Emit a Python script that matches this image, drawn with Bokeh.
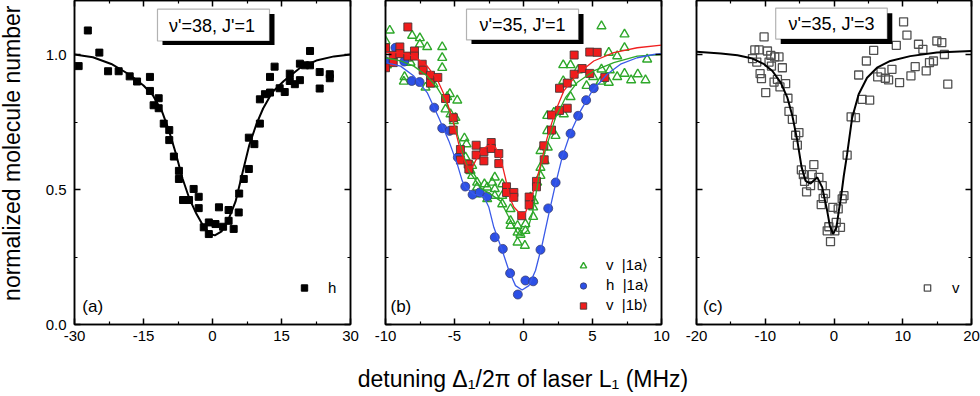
import math
from bokeh.plotting import figure
from bokeh.layouts import row, column
from bokeh.models import (FixedTicker, LinearAxis, Range1d, Label, BoxAnnotation,
                          Legend, LegendItem, PrintfTickFormatter)
from bokeh.embed import file_html
from bokeh.resources import INLINE

FONT = "Liberation Sans"

# ---------------- data ----------------
# panel (a): v'=38, J'=1, polarisation h
a_x = [-29.1, -27.1, -24.6, -22.7, -20.4, -18.0, -16.4, -13.6, -13.6, -12.8,
       -11.7, -11.7, -10.6, -9.4, -9.4, -8.4, -7.3, -7.3, -6.4, -5.1,
       -4.1, -3.0, -3.0, -1.9, -0.8, -0.8, 0.65, 1.4, 2.3, 3.5,
       3.5, 4.6, 5.7, 5.8, 6.8, 7.9, 7.9, 9.1, 10.3, 10.3,
       11.4, 12.5, 12.5, 13.5, 14.6, 15.7, 16.8, 16.8, 17.9, 19.0,
       19.0, 20.1, 21.2, 21.2, 23.3, 23.3, 25.5, 25.5]
a_y = [0.957, 1.089, 1.007, 0.938, 0.938, 0.919, 0.900, 0.917, 0.865, 0.812,
       0.838, 0.801, 0.744, 0.720, 0.683, 0.622, 0.569, 0.539, 0.461, 0.461,
       0.502, 0.473, 0.431, 0.360, 0.378, 0.335, 0.372, 0.434, 0.362, 0.384,
       0.424, 0.354, 0.415, 0.485, 0.539, 0.576, 0.692, 0.668, 0.744, 0.834,
       0.853, 0.859, 0.917, 0.955, 0.875, 0.861, 0.929, 0.902, 0.890, 0.905,
       0.966, 0.960, 1.013, 0.960, 0.874, 0.935, 0.927, 0.912]
af_x = [-30, -26, -22, -18, -15, -13, -11, -9.5, -8, -6.5, -5, -3.5, -2, -0.5,
        0.5, 2, 3.5, 5, 6.5, 8, 9.5, 11, 13, 15.5, 19, 22.8, 26.4, 30]
af_y = [1.0, 0.99, 0.965, 0.925, 0.885, 0.85, 0.79, 0.72, 0.635, 0.54, 0.465, 0.41, 0.365, 0.335,
        0.33, 0.345, 0.39, 0.455, 0.56, 0.665, 0.74, 0.80, 0.86, 0.902, 0.95, 0.979, 0.993, 1.0]

# panel (b): v'=35, J'=1
gb_x = [-10.00, -9.69, -9.28, -9.90, -8.79, -8.43, -8.19, -8.07, -8.67, -8.62,
        -7.51, -7.51, -6.98, -7.10, -6.52, -5.89, -5.89, -5.89, -5.34, -4.80,
        -5.53, -5.65, -5.29, -4.93, -5.05, -4.28, -4.13, -4.20, -3.84, -3.72,
        -3.72, -3.36, -3.36, -3.17, -2.83, -2.63, -2.63, -2.27, -2.08, -2.08,
        -2.08, -1.54, -1.54, -1.54, -0.94, -0.94, -0.94, -0.43, -0.43, -0.43,
        -0.22, 0.14, 0.14, 0.10, 0.70, 0.70, 0.75, 0.51, 0.99, 1.23,
        1.23, 1.23, 1.53, 1.72, 1.72, 1.76, 2.20, 2.32, 2.92, 2.88,
        2.88, 3.41, 3.41, 3.53, 3.94, 4.57, 5.05, 5.58, 5.65, 5.65,
        6.18, 6.18, 6.25, 6.79, 6.79, 7.32, 7.32, 7.32, 7.80, 8.28,
        8.84, 8.96]
gb_y = [1.050, 1.089, 1.007, 0.960, 1.000, 0.985, 0.970, 1.070, 0.900, 0.917,
        1.061, 1.038, 1.028, 0.878, 0.890, 1.028, 0.988, 0.951, 0.854, 0.830,
        0.843, 0.797, 0.779, 0.766, 0.754, 0.690, 0.668, 0.619, 0.569, 0.588,
        0.551, 0.526, 0.508, 0.483, 0.520, 0.508, 0.465, 0.526, 0.545, 0.502,
        0.477, 0.520, 0.477, 0.446, 0.428, 0.384, 0.366, 0.366, 0.341, 0.304,
        0.333, 0.372, 0.347, 0.292, 0.399, 0.434, 0.458, 0.471, 0.526, 0.551,
        0.581, 0.643, 0.606, 0.717, 0.773, 0.656, 0.785, 0.699, 0.779, 0.902,
        0.961, 0.961, 0.843, 0.896, 0.942, 0.884, 0.917, 0.900, 0.945, 1.105,
        1.007, 0.896, 0.942, 0.994, 0.917, 1.075, 1.025, 0.929, 0.905, 0.927,
        0.905, 0.982]
bb_x = [-10.0, -9.28, -8.64, -8.10, -7.53, -6.47, -5.89, -5.36, -4.76, -4.22,
        -3.69, -3.17, -2.63, -2.08, -1.50, -0.97, -0.41, 0.14, 0.70, 1.23,
        1.79, 2.33, 2.88, 3.41, 3.96, 4.54, 5.09]
bb_y = [0.975, 1.025, 0.974, 0.902, 0.898, 0.803, 0.727, 0.717, 0.619, 0.511,
        0.481, 0.489, 0.474, 0.323, 0.280, 0.190, 0.111, 0.163, 0.160, 0.277,
        0.430, 0.526, 0.627, 0.707, 0.773, 0.831, 0.875]
rb_x = [-10.0, -10.0, -9.44, -9.44, -8.96, -8.96, -8.38, -8.38, -7.90, -7.90,
        -7.34, -7.27, -6.74, -6.74, -6.21, -5.65, -5.09, -5.09, -4.57, -4.57,
        -4.01, -3.96, -3.43, -3.43, -2.87, -2.87, -2.34, -2.34, -1.79, -1.79,
        -1.23, -1.23, -0.70, -0.70, -0.13, 0.41, 0.41, 0.94, 0.94, 1.47,
        1.50, 2.03, 2.03, 2.61, 2.61, 3.17, 3.17, 3.67, 3.67, 4.25,
        4.80, 4.80, 5.34, 5.89]
rb_y = [1.025, 0.951, 0.997, 0.970, 1.028, 1.003, 1.102, 0.994, 1.013, 0.994,
        0.964, 0.942, 0.923, 0.894, 0.915, 0.837, 0.766, 0.720, 0.648, 0.609,
        0.594, 0.576, 0.664, 0.628, 0.640, 0.606, 0.674, 0.652, 0.633, 0.596,
        0.510, 0.489, 0.489, 0.471, 0.403, 0.472, 0.443, 0.530, 0.510, 0.662,
        0.610, 0.776, 0.720, 0.875, 0.793, 0.894, 0.801, 0.998, 0.927, 0.948,
        1.009, 0.930, 1.008, 0.915]
gf_x = [-10.0, -8.91, -7.95, -6.98, -6.26, -5.53, -4.93, -4.44, -3.96, -3.48,
        -3.12, -2.39, -1.67, -1.06, -0.46, -0.10, 0.27, 0.63, 0.99, 1.23,
        1.72, 2.32, 3.04, 3.89, 5.09, 6.54, 8.24, 10.0]
gf_y = [0.988, 0.976, 0.957, 0.920, 0.877, 0.816, 0.729, 0.643, 0.569, 0.535,
        0.505, 0.483, 0.458, 0.397, 0.341, 0.329, 0.347, 0.409, 0.508, 0.581,
        0.668, 0.766, 0.840, 0.896, 0.939, 0.970, 0.994, 1.000]
bf_x = [-10.0, -8.91, -7.95, -6.98, -6.14, -5.41, -4.80, -4.44, -4.20, -3.60,
        -2.87, -2.51, -2.15, -1.54, -1.06, -0.58, -0.10, 0.39, 0.87, 1.36,
        1.83, 2.32, 2.80, 3.41, 4.13, 4.98, 6.06, 7.03, 8.24, 9.44, 10.0]
bf_y = [0.970, 0.957, 0.920, 0.859, 0.766, 0.680, 0.594, 0.532, 0.508, 0.483,
        0.473, 0.434, 0.360, 0.274, 0.200, 0.144, 0.128, 0.144, 0.200, 0.298,
        0.409, 0.520, 0.619, 0.711, 0.791, 0.865, 0.927, 0.964, 0.988, 1.000, 1.003]
rf_x = [-10.0, -8.91, -7.95, -6.98, -6.26, -5.65, -5.17, -4.69, -4.20, -3.84,
        -3.48, -3.00, -2.39, -2.03, -1.67, -1.30, -1.00, -0.70, -0.22, 0.14,
        0.51, 0.87, 1.23, 1.72, 2.32, 2.92, 3.89, 5.09, 6.54, 8.24, 10.0]
rf_y = [1.007, 1.007, 0.994, 0.957, 0.908, 0.840, 0.766, 0.668, 0.594, 0.569,
        0.606, 0.650, 0.666, 0.656, 0.619, 0.540, 0.470, 0.435, 0.409, 0.415,
        0.458, 0.520, 0.590, 0.692, 0.791, 0.865, 0.927, 0.976, 1.007, 1.025, 1.035]

# panel (c): v'=35, J'=3, polarisation v
c_x = [-10.17, -11.52, -10.90, -9.68, -11.86, -11.23, -9.20, -8.62, -8.00, -9.45,
       -9.10, -7.51, -10.75, -10.55, -8.72, -8.23, -7.86, -7.03, -9.93, -6.70,
       -6.55, -6.06, -5.10, -5.58, -5.33, -4.75, -4.46, -2.93, -3.16, -2.20,
       -4.28, -3.41, -3.99, -1.71, -1.23, -1.57, -1.86, -0.17, -0.75, -0.99,
       0.12, -0.51, 0.32, 0.94, 0.61, 1.19, 1.45, 1.91, 2.49, 3.12,
       4.09, 5.19, 3.59, 4.71, 5.77, 6.84, 6.35, 7.46, 8.43, 7.94,
       9.54, 9.06, 10.12, 10.61, 11.19, 11.81, 12.29, 12.93, 13.41, 13.89,
       14.46, 14.96, 15.68, 16.06, 16.55]
c_y = [1.065, 1.017, 1.017, 1.013, 0.985, 0.972, 0.997, 0.991, 0.991, 0.972,
       0.957, 0.951, 0.929, 0.911, 0.898, 0.908, 0.880, 0.892, 0.859, 0.838,
       0.789, 0.760, 0.711, 0.701, 0.664, 0.573, 0.555, 0.592, 0.555, 0.545,
       0.530, 0.514, 0.491, 0.514, 0.485, 0.467, 0.444, 0.434, 0.362, 0.347,
       0.347, 0.307, 0.378, 0.360, 0.428, 0.465, 0.477, 0.627, 0.769, 0.766,
       0.834, 0.831, 0.924, 0.976, 1.015, 0.935, 0.917, 0.912, 0.945, 0.906,
       0.896, 1.034, 1.121, 1.072, 0.921, 0.955, 1.038, 1.019, 0.939, 0.970,
       0.976, 1.050, 1.044, 1.000, 0.890]
cf_x = [-20.0, -16.45, -14.03, -11.86, -10.17, -8.96, -7.75, -6.78, -6.06, -5.33,
        -4.71, -4.13, -3.41, -2.43, -1.71, -1.33, -0.99, -0.61, -0.12, 0.36,
        0.70, 1.04, 1.42, 1.91, 2.64, 3.59, 4.81, 6.26, 8.19, 11.09, 14.96, 20.0]
cf_y = [1.010, 1.004, 0.997, 0.985, 0.964, 0.939, 0.896, 0.840, 0.773, 0.680,
        0.582, 0.532, 0.522, 0.545, 0.508, 0.461, 0.421, 0.366, 0.335, 0.360,
        0.421, 0.475, 0.550, 0.631, 0.766, 0.853, 0.914, 0.951, 0.976, 0.994, 1.007, 1.013]

# ticks / texts
y_ticks = [0.0, 0.5, 1.0]
y_minor = [0.25, 0.75]
a_ticks, a_minor = [-30, -15, 0, 15, 30], [-22.5, -7.5, 7.5, 22.5]
b_ticks, b_minor = [-10, -5, 0, 5, 10], [-7.5, -2.5, 2.5, 7.5]
c_ticks, c_minor = [-20, -10, 0, 10, 20], [-15, -5, 5, 15]
titles = ["\u03bd'=38, J'=1", "\u03bd'=35, J'=1", "\u03bd'=35, J'=3"]
panel_tags = ["(a)", "(b)", "(c)"]
y_title = "normalized molecule number"
x_title = "detuning \u0394\u2081/2\u03c0 of laser L\u2081 (MHz)"

ROW_H = 350
TITLE_H = 46
YLAB_W = 36


def style_axis(ax, ticks, minor, fmt, show_labels):
    ax.ticker = FixedTicker(ticks=ticks, minor_ticks=minor)
    ax.formatter = PrintfTickFormatter(format=fmt)
    ax.axis_line_color = "black"
    ax.axis_line_width = 1.5
    ax.major_tick_in = 6
    ax.major_tick_out = 0
    ax.minor_tick_in = 3
    ax.minor_tick_out = 0
    ax.major_tick_line_color = "black"
    ax.major_tick_line_width = 1.5
    ax.minor_tick_line_color = "black"
    ax.minor_tick_line_width = 1.2
    if show_labels:
        ax.major_label_text_font = FONT
        ax.major_label_text_font_size = "15px"
        ax.major_label_text_color = "black"
        ax.major_label_standoff = 6
    else:
        ax.major_label_text_color = None
        ax.major_label_text_font_size = "0px"
        ax.major_label_standoff = 0


def make_panel(width, bl, br, xr, xt, xm, ylabels):
    p = figure(width=width, height=ROW_H, x_range=Range1d(*xr), y_range=Range1d(0, 1.2),
               output_backend="svg", toolbar_location=None,
               min_border_left=bl, min_border_right=br, min_border_top=0,
               min_border_bottom=ROW_H - 324)
    p.grid.visible = False
    p.outline_line_color = "black"
    p.outline_line_width = 1.5
    bottom = p.below[0]
    left = p.left[0]
    style_axis(bottom, xt, xm, "%d", True)
    style_axis(left, y_ticks, y_minor, "%.1f", ylabels)
    if ylabels:
        left.major_label_standoff = 8
    top = LinearAxis()
    style_axis(top, xt, xm, "%d", False)
    p.add_layout(top, "above")
    right = LinearAxis()
    style_axis(right, y_ticks, y_minor, "%.1f", False)
    p.add_layout(right, "right")
    return p


def text_panel(width, height):
    t = figure(width=width, height=height, x_range=Range1d(0, width), y_range=Range1d(0, height),
               output_backend="svg", toolbar_location=None, x_axis_type=None, y_axis_type=None,
               min_border=0, min_border_left=0, min_border_right=0,
               min_border_top=0, min_border_bottom=0)
    t.grid.visible = False
    t.outline_line_color = None
    return t


def title_box(p, text, box, shadow, tx, ty):
    p.add_layout(BoxAnnotation(left=shadow[0], right=shadow[1], top=shadow[2], bottom=shadow[3],
                               fill_color="black", fill_alpha=1.0, line_color=None))
    p.add_layout(BoxAnnotation(left=box[0], right=box[1], top=box[2], bottom=box[3],
                               fill_color="white", fill_alpha=1.0, line_color="black", line_width=1.2))
    p.add_layout(Label(x=tx, y=ty, text=text, text_font=FONT, text_font_size="18px",
                       text_align="center", text_baseline="middle", text_color="black"))


def tag(p, text, x):
    p.add_layout(Label(x=x, y=0.067, text=text, text_font=FONT, text_font_size="17px",
                       text_align="left", text_baseline="middle", text_color="black"))


def legend(p, items, loc, standoff):
    lg = Legend(items=items, location=loc, orientation="vertical",
                background_fill_alpha=0, border_line_alpha=0, padding=0, margin=0, spacing=2,
                glyph_width=16, glyph_height=17, label_height=17, label_standoff=standoff,
                label_text_font=FONT, label_text_font_size="15px", label_text_color="black")
    p.add_layout(lg)


# ---------------- y title ----------------
py = text_panel(YLAB_W, ROW_H)
py.add_layout(Label(x=11, y=ROW_H - 165, text=y_title, angle=math.pi / 2, text_font=FONT,
                    text_font_size="23px", text_align="center", text_baseline="alphabetic",
                    text_color="black"))

# ---------------- panel (a) ----------------
pa = make_panel(367 - YLAB_W, 74 - YLAB_W, 17, (-30, 30), a_ticks, a_minor, True)
ra = pa.scatter(a_x, a_y, marker="square", size=7, fill_color="black", line_color="black")
pa.line(af_x, af_y, line_color="black", line_width=2)
title_box(pa, titles[0], (-11.96, 12.39, 1.168, 1.050), (-10.87, 13.48, 1.150, 1.035), -0.1, 1.107)
tag(pa, panel_tags[0], -28.3)
legend(pa, [LegendItem(label="h", renderers=[ra])], (222, 28), 16)

# ---------------- panel (b) ----------------
pb = make_panel(311, 18, 17, (-10, 10), b_ticks, b_minor, False)
rg = pb.scatter(gb_x, gb_y, marker="triangle", size=9, fill_color=None,
                line_color="#2ea82a", line_width=1.4)
rbl = pb.scatter(bb_x, bb_y, marker="circle", size=9, fill_color="#2c50e6",
                 line_color="#3b3f70", line_width=0.8)
rr = pb.scatter(rb_x, rb_y, marker="square", size=8, fill_color="#f01c1c",
                line_color="#4a3535", line_width=0.9)
pb.line(gf_x, gf_y, line_color="#2ea82a", line_width=1.3)
pb.line(bf_x, bf_y, line_color="#3a5ae8", line_width=1.3)
pb.line(rf_x, rf_y, line_color="#f02020", line_width=1.3)
title_box(pb, titles[1], (-4.13, 3.99, 1.168, 1.054), (-3.77, 4.35, 1.150, 1.039), -0.07, 1.110)
tag(pb, panel_tags[1], -9.64)
legend(pb, [LegendItem(label="v  |1a\u27e9", renderers=[rg]),
            LegendItem(label="h  |1a\u27e9", renderers=[rbl]),
            LegendItem(label="v  |1b\u27e9", renderers=[rr])], (190, 10), 15)

# ---------------- panel (c) ----------------
pc = make_panel(302, 18, 9, (-20, 20), c_ticks, c_minor, False)
rc = pc.scatter(c_x, c_y, marker="square", size=8, fill_color=None,
                line_color="#505050", line_width=1.3)
pc.line(cf_x, cf_y, line_color="black", line_width=2)
title_box(pc, titles[2], (-8.48, 7.75, 1.172, 1.057), (-7.75, 8.48, 1.153, 1.039), -0.36, 1.113)
tag(pc, panel_tags[2], -19.06)
legend(pc, [LegendItem(label="v", renderers=[rc])], (223, 28), 17)

# ---------------- common x title ----------------
pt = text_panel(980, TITLE_H)
pt.add_layout(Label(x=522.5, y=18, text=x_title, text_font=FONT, text_font_size="23px",
                    text_align="center", text_baseline="alphabetic", text_color="black"))

layout = column(row(py, pa, pb, pc), pt)
open("out.html", "w").write(file_html(layout, INLINE))
